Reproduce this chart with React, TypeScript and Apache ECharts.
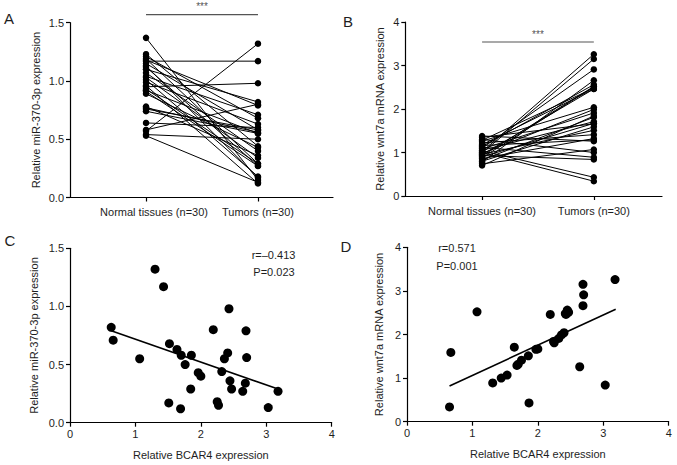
import React, { useEffect, useRef } from "react";
import * as echarts from "echarts";

const groupLabels = ["Normal tissues (n=30)", "Tumors (n=30)"];

// Panel A / C : miR-370-3p
const mirNormal = [1.10, 1.04, 0.92, 0.57, 1.17, 1.21, 1.13, 0.99, 0.76, 0.96, 0.54, 1.15, 1.19, 0.89, 1.07, 0.58, 1.01, 1.37, 1.23, 0.74, 0.64, 0.95, 0.78, 0.93, 1.12, 1.03, 1.18, 0.77, 0.53, 0.91];
const mirTumor = [0.82, 0.71, 0.55, 1.32, 1.17, 0.68, 0.17, 0.63, 0.58, 0.12, 0.50, 0.58, 0.29, 0.43, 0.40, 0.80, 0.18, 0.15, 0.44, 0.55, 0.60, 0.98, 0.36, 0.29, 0.27, 0.34, 0.79, 0.56, 0.13, 0.27];
const bcar4C = [0.63, 0.66, 1.065, 1.30, 1.43, 1.52, 1.51, 1.635, 1.70, 1.69, 1.76, 1.855, 1.845, 1.96, 2.0, 2.19, 2.25, 2.27, 2.32, 2.36, 2.41, 2.43, 2.445, 2.47, 2.64, 2.68, 2.69, 2.70, 3.03, 3.18];
const fitC = [[0.63, 0.79], [3.18, 0.29]];

// Panel B / D : wnt7a
const wntNormal = [1.00, 0.80, 0.92, 1.12, 1.30, 0.74, 1.05, 0.86, 1.22, 0.96, 1.04, 1.35, 0.90, 1.18, 0.83, 1.08, 0.98, 1.26, 0.95, 1.14, 0.88, 1.38, 0.99, 1.10, 0.78, 0.93, 1.02, 0.70, 1.16, 1.28];
const wntTumor = [0.34, 1.59, 2.52, 0.89, 1.00, 1.07, 1.71, 1.32, 1.41, 1.51, 0.43, 1.66, 1.67, 2.46, 1.81, 1.91, 1.99, 2.04, 2.46, 2.56, 2.51, 1.26, 3.15, 2.91, 2.66, 0.84, 3.26, 1.84, 1.29, 2.48];
const bcar4D = [0.65, 0.67, 1.07, 1.31, 1.44, 1.53, 1.64, 1.70, 1.75, 1.855, 1.865, 1.97, 2.0, 2.19, 2.25, 2.32, 2.36, 2.40, 2.43, 2.45, 2.47, 2.64, 2.69, 2.70, 2.69, 3.03, 3.18, 2.24, 1.68, 2.42];
const fitD = [[0.65, 0.82], [3.19, 2.58]];

const sigA = 1.57;
const sigB = 3.54;
const stars = "***";

const FONT = "'Liberation Sans', Arial, Helvetica, sans-serif";
const TXT = "#1e1e1e";

function yAxis(gridIndex: number, max: number, interval: number, dec: number, name: string, nameGap: number) {
  return {
    type: "value",
    gridIndex,
    min: 0,
    max,
    interval,
    name,
    nameLocation: "middle",
    nameGap,
    nameTextStyle: { fontFamily: FONT, fontSize: 11, color: TXT },
    axisLine: { show: true, lineStyle: { color: "#000", width: 1.2 } },
    axisTick: { show: true, length: 4, lineStyle: { color: "#000", width: 1.2 } },
    axisLabel: { formatter: (v: number) => v.toFixed(dec), margin: 6, fontFamily: FONT, fontSize: 11, color: TXT },
    splitLine: { show: false },
  };
}

function groupAxis(gridIndex: number, min: number, max: number, shiftFirst: number) {
  return {
    type: "value",
    gridIndex,
    min,
    max,
    axisLine: { show: true, lineStyle: { color: "#000", width: 1.2 } },
    axisTick: { show: true, length: 4, customValues: [1, 2], lineStyle: { color: "#000", width: 1.2 } },
    axisLabel: {
      customValues: [1, 2],
      margin: 9,
      fontFamily: FONT,
      fontSize: 11,
      color: TXT,
      formatter: (v: number) => (v === 1 ? "{n|" + groupLabels[0] + "}" : groupLabels[1]),
      rich: { n: { fontFamily: FONT, fontSize: 11, color: TXT, padding: [0, 0, 0, shiftFirst] } },
    },
    splitLine: { show: false },
  };
}

function numAxis(gridIndex: number) {
  return {
    type: "value",
    gridIndex,
    min: 0,
    max: 4,
    interval: 1,
    name: "Relative BCAR4 expression",
    nameLocation: "middle",
    nameGap: 27,
    nameTextStyle: { fontFamily: FONT, fontSize: 11, color: TXT },
    axisLine: { show: true, lineStyle: { color: "#000", width: 1.2 } },
    axisTick: { show: true, length: 4, lineStyle: { color: "#000", width: 1.2 } },
    axisLabel: { margin: 6, fontFamily: FONT, fontSize: 11, color: TXT },
    splitLine: { show: false },
  };
}

function pairedSeries(idx: number, normal: number[], tumor: number[], sig: number) {
  const out: any[] = normal.map((n, i) => ({
    type: "line",
    xAxisIndex: idx,
    yAxisIndex: idx,
    data: [[1, n], [2, tumor[i]]],
    symbol: "none",
    silent: true,
    lineStyle: { color: "#000", width: 1 },
    z: 2,
  }));
  out.push({
    type: "scatter",
    xAxisIndex: idx,
    yAxisIndex: idx,
    data: [...normal.map((v) => [1, v]), ...tumor.map((v) => [2, v])],
    symbolSize: 6.5,
    itemStyle: { color: "#000", opacity: 1 },
    z: 3,
  });
  out.push({
    type: "line",
    xAxisIndex: idx,
    yAxisIndex: idx,
    clip: false,
    data: [[1, sig], [2, sig]],
    symbol: "none",
    lineStyle: { color: "#555", width: 1.2 },
  });
  out.push({
    type: "scatter",
    xAxisIndex: idx,
    yAxisIndex: idx,
    clip: false,
    data: [[1.5, sig]],
    symbolSize: 0,
    label: { show: true, position: "top", distance: 3, formatter: stars, fontFamily: FONT, fontSize: 10, color: TXT },
  });
  return out;
}

function corrSeries(idx: number, xs: number[], ys: number[], fit: number[][]) {
  return [
    {
      type: "scatter",
      xAxisIndex: idx,
      yAxisIndex: idx,
      data: xs.map((x, i) => [x, ys[i]]),
      symbolSize: 9,
      itemStyle: { color: "#000", opacity: 1 },
    },
    {
      type: "line",
      xAxisIndex: idx,
      yAxisIndex: idx,
      data: fit,
      symbol: "none",
      lineStyle: { color: "#000", width: 1.6 },
    },
  ];
}

function txt(text: string, x: number, y: number, size: number) {
  return {
    type: "text",
    x,
    y,
    style: { text, fontFamily: FONT, fontSize: size, fill: TXT, align: "center", verticalAlign: "middle" },
  };
}

export default function App() {
  const ref = useRef<HTMLDivElement>(null);
  useEffect(() => {
    if (!ref.current) return;
    const chart = echarts.init(ref.current, undefined, { renderer: "svg" });
    chart.setOption({
      animation: false,
      backgroundColor: "#fff",
      grid: [
        { left: 70, right: 344, top: 22.7, bottom: 267.5 },
        { left: 405.3, right: 15, top: 22, bottom: 269 },
        { left: 70, right: 345.3, top: 248.3, bottom: 42.3 },
        { left: 407, right: 8.3, top: 247.3, bottom: 43.3 },
      ],
      xAxis: [groupAxis(0, 0.321, 2.67, 16), groupAxis(1, 0.313, 2.61, 0), numAxis(2), numAxis(3)],
      yAxis: [
        yAxis(0, 1.5, 0.5, 1, "Relative miR-370-3p expression", 29),
        yAxis(1, 4, 1, 0, "Relative wnt7a mRNA expression", 20),
        yAxis(2, 1.5, 0.5, 1, "Relative miR-370-3p expression", 31),
        yAxis(3, 4, 1, 0, "Relative wnt7a mRNA expression", 23),
      ],
      series: [
        ...pairedSeries(0, mirNormal, mirTumor, sigA),
        ...pairedSeries(1, wntNormal, wntTumor, sigB),
        ...corrSeries(2, bcar4C, mirTumor, fitC),
        ...corrSeries(3, bcar4D, wntTumor, fitD),
      ],
      graphic: [
        txt("A", 9, 18, 15),
        txt("B", 348, 21, 15),
        txt("C", 10, 240, 15),
        txt("D", 346, 246, 15),
        txt("r=–0.413", 273.5, 255, 11),
        txt("P=0.023", 274, 271.7, 11),
        txt("r=0.571", 457, 248, 11),
        txt("P=0.001", 457, 266, 11),
      ],
    });
    return () => chart.dispose();
  }, []);
  return <div ref={ref} style={{ position: "absolute", left: 0, top: 0, width: 677, height: 465 }} />;
}
